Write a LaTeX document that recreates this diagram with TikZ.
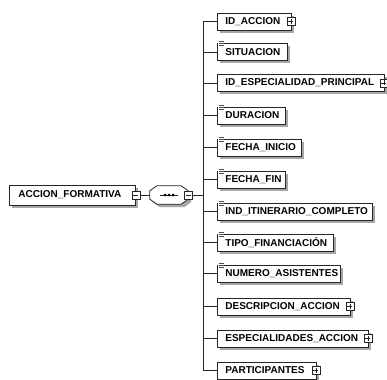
\documentclass[tikz,border=0pt]{standalone}
\usepackage{fontspec}
\setmainfont{Liberation Sans}
\usetikzlibrary{shadows}
\tikzset{
  conn/.style={draw=black!85, line width=0.8pt},
  shad/.style={drop shadow={shadow xshift=3pt, shadow yshift=-3pt, fill=black!35, opacity=1}},
  elem/.style={draw=black!85, line width=0.8pt, fill=white, shad, minimum height=17pt,
    inner xsep=0pt, inner ysep=0pt, align=left, anchor=west,
    font=\bfseries\fontsize{10}{12}\selectfont},
  rootbox/.style={elem, minimum height=20pt},
  seqbase/.style={minimum width=38pt, minimum height=18pt, inner sep=0pt},
  seqoutline/.style={draw=black!85, line width=0.8pt, fill=white, shad},
  signbox/.style={draw=black!85, line width=0.6pt, fill=white, minimum size=8pt, inner sep=0pt},
  plusbox/.style={signbox, path picture={
    \draw[line width=0.6pt] ([xshift=1.5pt]path picture bounding box.west) -- ([xshift=-1.5pt]path picture bounding box.east);
    \draw[line width=0.6pt] ([yshift=-1.5pt]path picture bounding box.north) -- ([yshift=1.5pt]path picture bounding box.south);}},
  minusbox/.style={signbox, path picture={
    \draw[line width=0.6pt] ([xshift=1.5pt]path picture bounding box.west) -- ([xshift=-1.5pt]path picture bounding box.east);}},
  docline/.style={draw=black!70, line width=0.6pt},
}
\newcommand{\docicon}[1]{%
  \fill[white] ([xshift=1pt,yshift=2.5pt]#1.north west) rectangle ([xshift=7pt,yshift=-3pt]#1.north west);
  \draw[docline] ([xshift=1.5pt,yshift=1.5pt]#1.north west) -- ([xshift=6.5pt,yshift=1.5pt]#1.north west);
  \draw[docline] ([xshift=1.5pt,yshift=-0.5pt]#1.north west) -- ([xshift=6.5pt,yshift=-0.5pt]#1.north west);
  \draw[docline] ([xshift=1.5pt,yshift=-2.5pt]#1.north west) -- ([xshift=6.5pt,yshift=-2.5pt]#1.north west);}
\begin{document}
\begin{tikzpicture}[x=1pt,y=-1pt]
\useasboundingbox[fill=white] (0,0) rectangle (387,379);

% root element
\node[rootbox, text width=126pt] (root) at (9,195) {\hspace*{9pt}ACCION\_FORMATIVA};
\node[minusbox] (rm) at (root.east) {};

% sequence compositor
\node[seqbase] (seq) at (169,195) {};
\path[seqoutline] ([xshift=7pt]seq.north west) -- ([xshift=-7pt]seq.north east)
  -- ([yshift=-5pt]seq.north east) -- ([yshift=5pt]seq.south east)
  -- ([xshift=-7pt]seq.south east) -- ([xshift=7pt]seq.south west)
  -- ([yshift=5pt]seq.south west) -- ([yshift=-5pt]seq.north west) -- cycle;
\draw[black!85, line width=0.8pt] ([xshift=-9pt]seq.center) -- ([xshift=9pt]seq.center);
\fill[black] ([xshift=-4pt]seq.center) circle (1.5pt);
\fill[black] (seq.center) circle (1.5pt);
\fill[black] ([xshift=4pt]seq.center) circle (1.5pt);
\node[minusbox] (sm) at (seq.east) {};

\coordinate (trunk) at (203,195);
\draw[conn] (rm.east) -- (seq.west);
\draw[conn] (sm.east) -- (trunk);

% child elements
\node[elem, text width=74pt]  (e1)  at (217,21.5)  {\hspace*{8pt}ID\_ACCION};
\node[elem, text width=70pt]  (e2)  at (217,52)    {\hspace*{8pt}SITUACION};
\node[elem, text width=167pt] (e3)  at (217,83)    {\hspace*{8pt}ID\_ESPECIALIDAD\_PRINCIPAL};
\node[elem, text width=68pt]  (e4)  at (217,115.5) {\hspace*{8pt}DURACION};
\node[elem, text width=84pt]  (e5)  at (217,147.5) {\hspace*{8pt}FECHA\_INICIO};
\node[elem, text width=68pt]  (e6)  at (217,179.5) {\hspace*{8pt}FECHA\_FIN};
\node[elem, text width=155pt] (e7)  at (217,211.5) {\hspace*{8pt}IND\_ITINERARIO\_COMPLETO};
\node[elem, text width=116pt] (e8)  at (217,242.5) {\hspace*{8pt}TIPO\_FINANCIACIÓN};
\node[elem, text width=123pt] (e9)  at (217,273.5) {\hspace*{8pt}NUMERO\_ASISTENTES};
\node[elem, text width=133pt] (e10) at (217,306.5) {\hspace*{8pt}DESCRIPCION\_ACCION};
\node[elem, text width=151pt] (e11) at (217,338.5) {\hspace*{8pt}ESPECIALIDADES\_ACCION};
\node[elem, text width=99pt]  (e12) at (217,370.5) {\hspace*{8pt}PARTICIPANTES};

% expand signs
\node[plusbox] (p1)  at ([xshift=-1pt]e1.east)  {};
\node[plusbox] (p3)  at ([xshift=-1pt]e3.east)  {};
\node[plusbox] (p10) at ([xshift=-1pt]e10.east) {};
\node[plusbox] (p11) at ([xshift=-1pt]e11.east) {};
\node[plusbox] (p12) at ([xshift=-1pt]e12.east) {};

% documentation icons
\docicon{e2}
\docicon{e4}
\docicon{e5}
\docicon{e6}
\docicon{e7}
\docicon{e8}
\docicon{e9}

% trunk and branches
\draw[conn] (trunk |- e1.west) -- (trunk |- e12.west);
\foreach \i in {1,...,12} {
  \draw[conn] (trunk |- e\i.west) -- (e\i.west);
}
\end{tikzpicture}
\end{document}
